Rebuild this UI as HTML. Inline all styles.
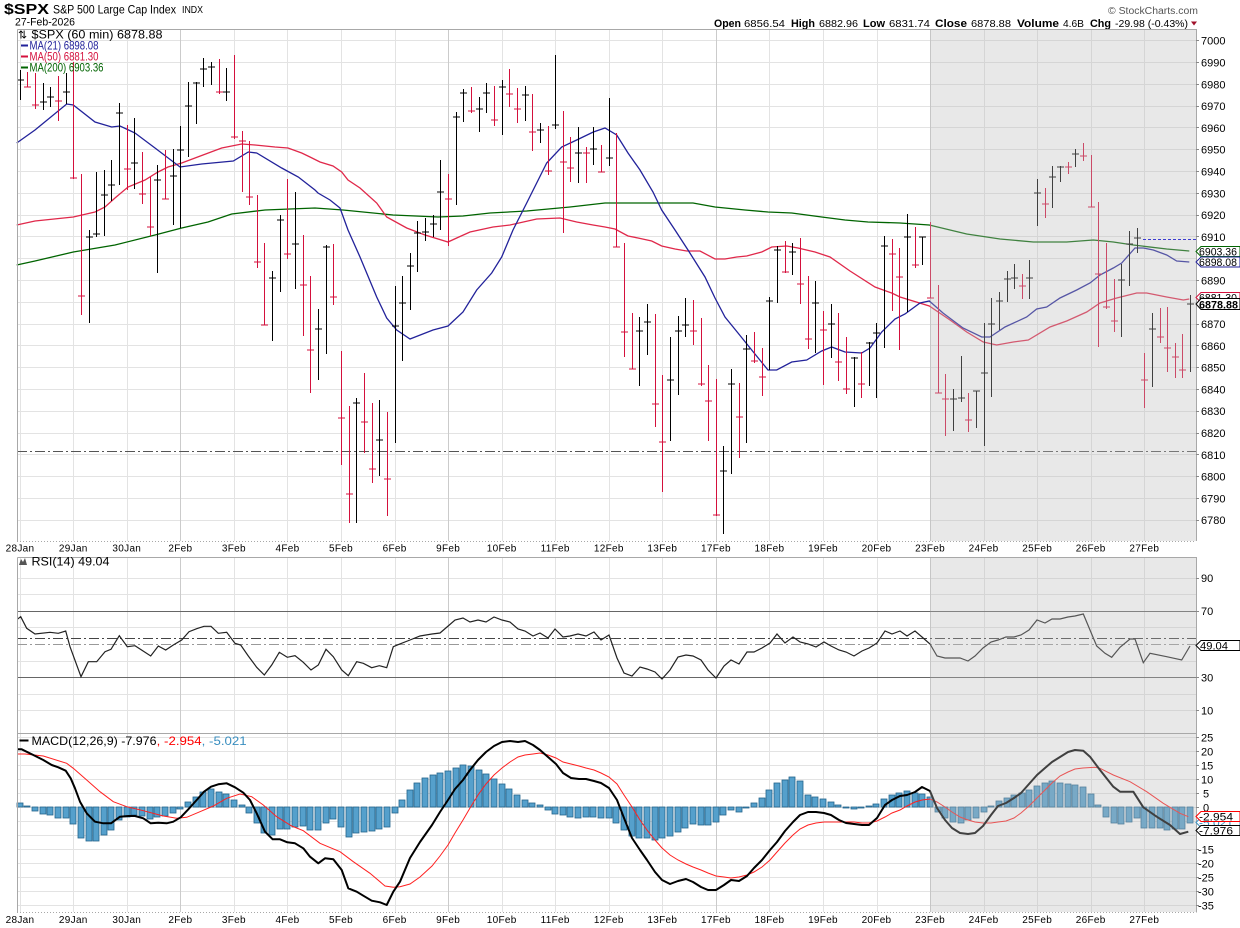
<!DOCTYPE html>
<html><head><meta charset="utf-8"><style>
html,body{margin:0;padding:0;background:#fff;width:1240px;height:928px;overflow:hidden}
svg{display:block;font-family:"Liberation Sans",Arial,sans-serif}
</style></head><body>
<svg width="1240" height="928" viewBox="0 0 1240 928" xmlns="http://www.w3.org/2000/svg">
<rect width="1240" height="928" fill="#fff"/>
<!-- header -->
<text x="4" y="14" font-size="15" font-weight="bold" textLength="45" lengthAdjust="spacingAndGlyphs">$SPX</text>
<text x="53" y="13.5" font-size="12" textLength="123" lengthAdjust="spacingAndGlyphs">S&amp;P 500 Large Cap Index</text>
<text x="182" y="13" font-size="10" textLength="21" lengthAdjust="spacingAndGlyphs">INDX</text>
<text x="15" y="25.5" font-size="11" textLength="60" lengthAdjust="spacingAndGlyphs">27-Feb-2026</text>
<text x="1108" y="14" font-size="10" fill="#555" textLength="90" lengthAdjust="spacingAndGlyphs">© StockCharts.com</text>
<g font-size="11">
<text x="714" y="27" font-weight="bold" textLength="27" lengthAdjust="spacingAndGlyphs">Open</text>
<text x="744" y="27" font-size="10.5" textLength="41" lengthAdjust="spacingAndGlyphs">6856.54</text>
<text x="791" y="27" font-weight="bold" textLength="24" lengthAdjust="spacingAndGlyphs">High</text>
<text x="819" y="27" font-size="10.5" textLength="39" lengthAdjust="spacingAndGlyphs">6882.96</text>
<text x="863" y="27" font-weight="bold" textLength="22" lengthAdjust="spacingAndGlyphs">Low</text>
<text x="889" y="27" font-size="10.5" textLength="41" lengthAdjust="spacingAndGlyphs">6831.74</text>
<text x="935" y="27" font-weight="bold" textLength="32" lengthAdjust="spacingAndGlyphs">Close</text>
<text x="971" y="27" font-size="10.5" textLength="40" lengthAdjust="spacingAndGlyphs">6878.88</text>
<text x="1017" y="27" font-weight="bold" textLength="42" lengthAdjust="spacingAndGlyphs">Volume</text>
<text x="1063" y="27" font-size="10.5" textLength="21" lengthAdjust="spacingAndGlyphs">4.6B</text>
<text x="1090" y="27" font-weight="bold" textLength="21" lengthAdjust="spacingAndGlyphs">Chg</text>
<text x="1115" y="27" font-size="10.5" textLength="73" lengthAdjust="spacingAndGlyphs">-29.98 (-0.43%)</text>
</g>
<polygon points="1191,21.5 1197,21.5 1194,25.5" fill="#a0102a"/>

<!-- ============ GRIDS ============ -->
<g stroke="#e3e3e3" stroke-width="1" fill="none" shape-rendering="crispEdges">
<path d="M17 40.5H1196M17 62.5H1196M17 84.5H1196M17 106.5H1196M17 127.5H1196M17 149.5H1196M17 171.5H1196M17 193.5H1196M17 215.5H1196M17 236.5H1196M17 258.5H1196M17 280.5H1196M17 302.5H1196M17 324.5H1196M17 345.5H1196M17 367.5H1196M17 389.5H1196M17 411.5H1196M17 433.5H1196M17 454.5H1196M17 476.5H1196M17 498.5H1196M17 520.5H1196"/>
<path d="M20.5 29V541M73.5 29V541M127.5 29V541M234.5 29V541M287.5 29V541M341.5 29V541M395.5 29V541M502.5 29V541M555.5 29V541M609.5 29V541M662.5 29V541M769.5 29V541M823.5 29V541M877.5 29V541M984.5 29V541M1037.5 29V541M1091.5 29V541M1144.5 29V541"/>
<path stroke="#cbcbcb" d="M180.5 29V541M448.5 29V541M716.5 29V541M930.5 29V541"/>
<path d="M17 578.5H1196M17 594.5H1196M17 627.5H1196M17 661.5H1196M17 694.5H1196M17 710.5H1196"/>
<path d="M20.5 557V733M73.5 557V733M127.5 557V733M234.5 557V733M287.5 557V733M341.5 557V733M395.5 557V733M502.5 557V733M555.5 557V733M609.5 557V733M662.5 557V733M769.5 557V733M823.5 557V733M877.5 557V733M984.5 557V733M1037.5 557V733M1091.5 557V733M1144.5 557V733"/>
<path stroke="#cbcbcb" d="M180.5 557V733M448.5 557V733M716.5 557V733M930.5 557V733"/>
<path d="M17 737.5H1196M17 751.5H1196M17 765.5H1196M17 779.5H1196M17 793.5H1196M17 807.5H1196M17 821.5H1196M17 835.5H1196M17 849.5H1196M17 863.5H1196M17 877.5H1196M17 891.5H1196M17 905.5H1196"/>
<path d="M20.5 733V912M73.5 733V912M127.5 733V912M234.5 733V912M287.5 733V912M341.5 733V912M395.5 733V912M502.5 733V912M555.5 733V912M609.5 733V912M662.5 733V912M769.5 733V912M823.5 733V912M877.5 733V912M984.5 733V912M1037.5 733V912M1091.5 733V912M1144.5 733V912"/>
<path stroke="#cbcbcb" d="M180.5 733V912M448.5 733V912M716.5 733V912M930.5 733V912"/>
</g>

<path d="M17 451.5H1196" stroke="#555" stroke-width="1" stroke-dasharray="10,3,2,3" fill="none"/>

<!-- MAs -->
<polyline fill="none" stroke="#006400" stroke-width="1.3" points="16.7,265 35,261 73.3,252 115,245 155,235 181.7,228 208,222 231.7,214 265,210 315,208 343,210 393,215 438,217 463,216 490,213 526.7,211 570,207 605,203 693,203 715,207 745,210 768,212 791.7,213 821.7,217 845,220 868,222 900,223 929.3,225 966.7,234 1000,239 1033.3,242 1066.7,242 1093.3,240 1113.3,242 1133.3,245 1166.7,249 1189.3,251"/>
<polyline fill="none" stroke="#e0284a" stroke-width="1.3" points="16.7,225 35,221 73.3,217 95,212 105,207 115,198 128,187 145,180 158,172 168,167 181.7,163 203,155 221.7,148 241.7,144 255,145 275,147 288,148 301.7,153 310,157 320,162 333,166 341.7,172 348,180 360,188 376.7,203 386.7,217 406.7,228 425,235 448,242 456.7,238 470,232 493,227 510,225 536.7,219 560,218 576.7,222 593,225 605,227 615,229 628,236 638,238 651.7,241 661.7,246 675,249 686.7,251 700,251 715,259 725,259 736.7,257 746.7,256 761.7,252 771.7,247 786.7,246 798,248 815,252 830,257 850,271 875,287 891.7,293 900,297 929.3,306 950,320 966.7,332 983.3,342 996.7,345 1013.3,342 1028.3,340 1050,327 1066.7,321 1086.7,312 1100,303 1116.7,298 1136.7,293 1146.7,293 1166.7,297 1183.3,300 1189.3,299"/>
<polyline fill="none" stroke="#22229a" stroke-width="1.3" points="16.7,143 35,130 66.7,104 73.3,105 95,122 111.7,127 120,126 135,133 155,148 180,167 201.7,164 233.3,161 248.3,152 256.7,153 281.7,168 298.3,177 315,190 318,193 330,200 340,208 348,230 360,257 376.7,297 386.7,318 396.7,330 410,339 433,330 448,326 463,312 476.7,290 491.7,273 501.7,257 513,230 526.7,203 546.7,163 561.7,147 576.7,140 593.3,132 605,128 616.7,135 628,153 640,170 653,192 661.7,210 675,230 688,250 705,277 715,298 725,317 738,333 751.7,350 768,370 776.7,370 791.7,362 806.7,360 821.7,351 831.7,347 845,352 861.7,353 870,348 881.7,332 895,319 905,314 920,303 929.3,301 943,313 963,328 981.7,337 990,337 1005,327 1026.7,317 1036.7,309 1046.7,307 1060,298 1076.7,290 1090,283 1100,275 1113.3,268 1121.7,263 1135,248 1143.3,248 1153.3,250 1166.7,255 1176.7,261 1189.3,262"/>

<!-- price bars -->
<g fill="none" stroke-width="1" shape-rendering="crispEdges">
<path stroke="#000" d="M20.5 70V100M17 80H24M43.5 83V110M40 102H47M50.5 87V107M47 97H54M66.5 73V104M63 92H70M89.5 230V323M86 237H93M96.5 172V237M93 234H100M104.5 170V236M101 195H108M111.5 160V201M108 185H115M119.5 103V185M116 113H123M134.5 118V189M131 163H138M157.5 165V273M154 180H161M173.5 149V225M170 176H177M180.5 126V228M177 150H184M188.5 82V157M185 106H192M196.5 82V124M193 83H200M203.5 58V87M200 69H207M211.5 62V85M208 67H215M226.5 68V101M223 92H230M272.5 271V341M269 278H276M280.5 215V292M277 220H284M295.5 192V289M292 244H299M318.5 309V380M315 329H322M326.5 245V354M323 247H330M356.5 398V523M353 403H360M379.5 400V476M376 440H383M395.5 286V443M392 326H399M402.5 276V361M399 303H406M410.5 253V310M407 266H414M417.5 221V272M414 233H421M425.5 218V241M422 232H429M433.5 215V237M430 224H437M440.5 160V230M437 192H444M456.5 112V205M453 117H460M463.5 89V122M460 93H467M479.5 97V132M476 109H483M486.5 83V113M483 93H490M502.5 80V135M499 87H506M525.5 86V121M522 95H529M540.5 123V143M537 130H544M555.5 55V129M552 125H559M578.5 127V183M575 153H582M593.5 127V165M590 149H597M609.5 98V166M606 158H613M639.5 317V386M636 331H643M647.5 304V355M644 322H651M670.5 337V441M667 380H674M678.5 316V395M675 331H682M685.5 298V337M682 325H689M723.5 446V534M720 471H727M731.5 369V474M728 384H735M746.5 335V443M743 349H750M769.5 297V370M766 301H773M777.5 246V303M774 250H781M792.5 243V275M789 252H796M815.5 281V353M812 303H819M831.5 304V358M828 324H835M854.5 357V407M851 358H858M869.5 342V386M866 343H873M876.5 323V398M873 333H880M884.5 236V348M881 246H888M907.5 214V312M904 237H911M922.5 237V265M919 237H926M953.5 389V431M950 399H957M961.5 356V402M958 398H965M976.5 391V428M973 391H980M984.5 323V446M981 373H988M991.5 298V397M988 324H995M999.5 292V330M996 301H1003M1007.5 271V302M1004 279H1011M1014.5 264V289M1011 278H1018M1029.5 260V299M1026 278H1033M1037.5 179V226M1034 193H1041M1052.5 166V208M1049 177H1056M1060.5 166V182M1057 167H1064M1075.5 149V167M1072 154H1079M1121.5 264V337M1118 280H1125M1129.5 231V286M1126 244H1133M1137.5 228V253M1134 238H1141M1152.5 313V387M1149 329H1156M1190.5 295V372M1187 304H1194"/>
<path stroke="#d4103c" d="M27.5 72V87M24 87H31M35.5 73V109M32 105H39M58.5 76V121M55 101H62M73.5 62V179M70 178H77M81.5 174V315M78 296H85M127.5 125V190M124 169H131M142.5 152V204M139 194H146M150.5 177V236M147 227H154M165.5 150V199M162 199H169M219.5 59V94M216 92H223M234.5 55V139M231 137H238M242.5 131V192M239 141H246M249.5 141V205M246 197H253M257.5 195V268M254 262H261M264.5 243V325M261 325H268M287.5 179V259M284 254H291M303.5 235V336M300 285H307M310.5 276V393M307 350H314M333.5 244V305M330 297H337M341.5 351V465M338 418H345M349.5 406V523M346 494H353M364.5 373V453M361 422H368M372.5 403V483M369 469H376M387.5 412V516M384 479H391M448.5 174V246M445 199H452M471.5 87V113M468 111H475M494.5 86V126M491 120H498M509.5 69V107M506 94H513M517.5 88V123M514 109H521M532.5 94V151M529 132H536M548.5 126V175M545 171H552M563.5 111V233M560 162H567M570.5 137V182M567 168H574M586.5 147V183M583 153H590M601.5 145V172M598 172H605M616.5 133V247M613 247H620M624.5 243V357M621 332H628M632.5 313V369M629 369H636M655.5 314V427M652 404H659M662.5 375V492M659 442H666M693.5 300V345M690 331H697M701.5 318V386M698 384H705M708.5 365V441M705 401H712M716.5 379V516M713 515H720M739.5 383V458M736 417H743M754.5 332V363M751 361H758M762.5 348V396M759 377H766M785.5 241V273M782 272H789M800.5 238V304M797 284H804M808.5 276V349M805 339H812M823.5 311V385M820 330H827M838.5 313V381M835 362H842M846.5 337V394M843 389H850M861.5 352V398M858 384H865M892.5 239V311M889 254H896M899.5 248V350M896 277H903M915.5 227V268M912 265H919M930.5 222V298M927 298H934M938.5 285V393M935 393H942M945.5 374V436M942 399H949M968.5 393V432M965 420H972M1022.5 274V299M1019 286H1026M1045.5 188V218M1042 204H1049M1068.5 162V174M1065 167H1072M1083.5 143V161M1080 156H1087M1091.5 155V207M1088 207H1095M1098.5 202V347M1095 274H1102M1106.5 243V309M1103 307H1110M1114.5 279V332M1111 321H1118M1144.5 353V408M1141 380H1148M1160.5 308V343M1157 337H1164M1167.5 307V372M1164 348H1171M1175.5 343V378M1172 357H1179M1182.5 334V378M1179 370H1186"/>
</g>

<!-- ============ RSI ============ -->
<g fill="none" shape-rendering="crispEdges">
<path d="M17 611.5H1196M17 677.5H1196" stroke="#666" stroke-width="1"/>
<path d="M17 638.5H1196" stroke="#444" stroke-width="1" stroke-dasharray="10,3,2,3"/>
<path d="M17 644.5H1196" stroke="#999" stroke-width="1" stroke-dasharray="10,3,2,3"/>
</g>
<polyline fill="none" stroke="#222" stroke-width="1.2" points="17.3,619.3 20.7,616.7 26.7,628.3 35,634 50,632.3 58.3,633.3 65.7,631 70,646.7 81,676.7 88.3,661.7 96.7,661.7 105,651.7 111,649.3 119.3,635.7 127.3,646.7 135,645.7 142.7,650.7 150.7,656 158.3,646 165.7,650 173.3,645 181.7,640 189,631.7 196.7,628.7 204,626.3 211,626.3 218.3,633.3 226.7,632.3 235,643.3 240.7,645 248.3,656 256.7,667.3 264.3,675 271.7,665 279.3,652.3 287.3,657.3 295,655.7 303.3,662.3 311,670 318.3,665 326,649.3 333.3,656.7 341.7,670 348.3,675.7 356.7,661.7 363.3,663.3 371.7,667.7 379.3,665.7 386.7,667.7 393.3,646.7 399,644.3 410,640 420,636 432,634 440,633 447,627 455,620 463,618 470,622 478,620 486,622 494,617 502,620 510,622 518,629 525,631 533,636 540,633 548,638 555,629 563,637 570,636 578,634 586,636 594,632 601,640 609,635 617,658 624,673 632,676 640,667 647,669 655,672 662,679 670,670 678,657 686,655 693,656 701,660 708,670 716,678 724,666 731,660 739,664 747,652 754,652 762,648 770,643 777,634 785,643 793,637 800,642 808,644 816,647 824,642 831,646 839,650 846,652 854,656 862,651 869,648 877,643 885,631 892,634 900,631 907,636 915,631 922,637 930,644 937,656 945,658 952,658 960,658 968,661 975,656 983,648 991,642 998,640 1006,637 1014,637 1021,635 1029,630 1037,620 1045,623 1052,619 1060,619 1068,617 1075,616 1083.3,614 1090,630 1096.7,646 1105,653.3 1111.7,657.3 1120,647.3 1130,639 1135,639 1143.3,662.7 1150,653.3 1166.7,656.7 1181.7,660 1190,646"/>

<!-- ============ MACD ============ -->
<g fill="#55a0cc" stroke="#24648c" stroke-width="0.8">
<rect x="17" y="803" width="6" height="4"/><rect x="24" y="806" width="6" height="1"/><rect x="32" y="807" width="6" height="4"/><rect x="40" y="807" width="6" height="7"/><rect x="47" y="807" width="6" height="8"/><rect x="55" y="807" width="6" height="11"/><rect x="63" y="807" width="6" height="11"/><rect x="70" y="807" width="6" height="17"/><rect x="78" y="807" width="6" height="31"/><rect x="86" y="807" width="6" height="34"/><rect x="93" y="807" width="6" height="34"/><rect x="101" y="807" width="6" height="28"/><rect x="108" y="807" width="6" height="23"/><rect x="116" y="807" width="6" height="13"/><rect x="124" y="807" width="6" height="10"/><rect x="131" y="807" width="6" height="8"/><rect x="139" y="807" width="6" height="9"/><rect x="147" y="807" width="6" height="12"/><rect x="154" y="807" width="6" height="10"/><rect x="162" y="807" width="6" height="9"/><rect x="170" y="807" width="6" height="6"/><rect x="177" y="807" width="6" height="2"/><rect x="185" y="802" width="6" height="5"/><rect x="193" y="797" width="6" height="10"/><rect x="200" y="792" width="6" height="15"/><rect x="208" y="789" width="6" height="18"/><rect x="216" y="792" width="6" height="15"/><rect x="223" y="794" width="6" height="13"/><rect x="231" y="800" width="6" height="7"/><rect x="239" y="805" width="6" height="2"/><rect x="246" y="807" width="6" height="6"/><rect x="254" y="807" width="6" height="16"/><rect x="261" y="807" width="6" height="26"/><rect x="269" y="807" width="6" height="28"/><rect x="277" y="807" width="6" height="22"/><rect x="284" y="807" width="6" height="22"/><rect x="292" y="807" width="6" height="20"/><rect x="300" y="807" width="6" height="19"/><rect x="307" y="807" width="6" height="23"/><rect x="315" y="807" width="6" height="23"/><rect x="323" y="807" width="6" height="16"/><rect x="330" y="807" width="6" height="12"/><rect x="338" y="807" width="6" height="20"/><rect x="346" y="807" width="6" height="30"/><rect x="353" y="807" width="6" height="26"/><rect x="361" y="807" width="6" height="25"/><rect x="369" y="807" width="6" height="24"/><rect x="376" y="807" width="6" height="22"/><rect x="384" y="807" width="6" height="20"/><rect x="392" y="807" width="6" height="6"/><rect x="399" y="800" width="6" height="7"/><rect x="407" y="790" width="6" height="17"/><rect x="414" y="783" width="6" height="24"/><rect x="422" y="778" width="6" height="29"/><rect x="430" y="775" width="6" height="32"/><rect x="437" y="773" width="6" height="34"/><rect x="445" y="771" width="6" height="36"/><rect x="453" y="768" width="6" height="39"/><rect x="460" y="765" width="6" height="42"/><rect x="468" y="766" width="6" height="41"/><rect x="476" y="770" width="6" height="37"/><rect x="483" y="774" width="6" height="33"/><rect x="491" y="779" width="6" height="28"/><rect x="499" y="784" width="6" height="23"/><rect x="506" y="789" width="6" height="18"/><rect x="514" y="795" width="6" height="12"/><rect x="522" y="800" width="6" height="7"/><rect x="529" y="803" width="6" height="4"/><rect x="537" y="805" width="6" height="2"/><rect x="545" y="807" width="6" height="3"/><rect x="552" y="807" width="6" height="7"/><rect x="560" y="807" width="6" height="8"/><rect x="567" y="807" width="6" height="10"/><rect x="575" y="807" width="6" height="11"/><rect x="583" y="807" width="6" height="10"/><rect x="590" y="807" width="6" height="10"/><rect x="598" y="807" width="6" height="11"/><rect x="606" y="807" width="6" height="11"/><rect x="613" y="807" width="6" height="16"/><rect x="621" y="807" width="6" height="23"/><rect x="629" y="807" width="6" height="29"/><rect x="636" y="807" width="6" height="31"/><rect x="644" y="807" width="6" height="31"/><rect x="652" y="807" width="6" height="33"/><rect x="659" y="807" width="6" height="31"/><rect x="667" y="807" width="6" height="29"/><rect x="675" y="807" width="6" height="25"/><rect x="682" y="807" width="6" height="21"/><rect x="690" y="807" width="6" height="17"/><rect x="698" y="807" width="6" height="18"/><rect x="705" y="807" width="6" height="18"/><rect x="713" y="807" width="6" height="15"/><rect x="720" y="807" width="6" height="8"/><rect x="728" y="807" width="6" height="3"/><rect x="736" y="807" width="6" height="5"/><rect x="743" y="807" width="6" height="1"/><rect x="751" y="803" width="6" height="4"/><rect x="759" y="798" width="6" height="9"/><rect x="766" y="790" width="6" height="17"/><rect x="774" y="783" width="6" height="24"/><rect x="782" y="780" width="6" height="27"/><rect x="789" y="777" width="6" height="30"/><rect x="797" y="781" width="6" height="26"/><rect x="805" y="795" width="6" height="12"/><rect x="812" y="797" width="6" height="10"/><rect x="820" y="799" width="6" height="8"/><rect x="828" y="802" width="6" height="5"/><rect x="835" y="805" width="6" height="2"/><rect x="843" y="807" width="6" height="1"/><rect x="851" y="807" width="6" height="2"/><rect x="858" y="807" width="6" height="1"/><rect x="866" y="806" width="6" height="1"/><rect x="873" y="804" width="6" height="3"/><rect x="881" y="799" width="6" height="8"/><rect x="889" y="795" width="6" height="12"/><rect x="896" y="793" width="6" height="14"/><rect x="904" y="791" width="6" height="16"/><rect x="912" y="793" width="6" height="14"/><rect x="919" y="794" width="6" height="13"/><rect x="927" y="797" width="6" height="10"/><rect x="935" y="807" width="6" height="5"/><rect x="942" y="807" width="6" height="11"/><rect x="950" y="807" width="6" height="15"/><rect x="958" y="807" width="6" height="16"/><rect x="965" y="807" width="6" height="13"/><rect x="973" y="807" width="6" height="11"/><rect x="981" y="807" width="6" height="5"/><rect x="988" y="806" width="6" height="1"/><rect x="996" y="801" width="6" height="6"/><rect x="1004" y="798" width="6" height="9"/><rect x="1011" y="795" width="6" height="12"/><rect x="1019" y="793" width="6" height="14"/><rect x="1026" y="790" width="6" height="17"/><rect x="1034" y="786" width="6" height="21"/><rect x="1042" y="783" width="6" height="24"/><rect x="1049" y="781" width="6" height="26"/><rect x="1057" y="783" width="6" height="24"/><rect x="1065" y="784" width="6" height="23"/><rect x="1072" y="785" width="6" height="22"/><rect x="1080" y="787" width="6" height="20"/><rect x="1088" y="794" width="6" height="13"/><rect x="1095" y="805" width="6" height="2"/><rect x="1103" y="807" width="6" height="10"/><rect x="1111" y="807" width="6" height="16"/><rect x="1118" y="807" width="6" height="17"/><rect x="1126" y="807" width="6" height="15"/><rect x="1134" y="807" width="6" height="11"/><rect x="1141" y="807" width="6" height="21"/><rect x="1149" y="807" width="6" height="21"/><rect x="1157" y="807" width="6" height="21"/><rect x="1164" y="807" width="6" height="23"/><rect x="1172" y="807" width="6" height="22"/><rect x="1179" y="807" width="6" height="22"/><rect x="1187" y="807" width="6" height="16"/>
</g>
<polyline fill="none" stroke="#ff2020" stroke-width="1" points="17.3,754 25,754 43.3,756 66.7,763.3 73.3,768.3 86.7,780 100,791.7 113.3,801.7 126.7,806.7 143.3,810.7 163.3,816 176.7,818.3 186.7,817.3 200,811.7 213.3,806 226.7,798.3 240,794 251.7,796.7 263.3,805 276.7,816.7 291.7,826 303.3,830.7 320,843.3 340,851.7 353.3,861.7 370,873.3 385,886 393.3,887.3 400,886.7 410,884 420,877 432,866 440,856 448,845 455,833 463,820 470,808 478,795 486,784 494,775 502,768 510,762 518,757 525,755 533,754 540,753 548,755 556,758 563,762 571,764 579,766 586,768 594,770 601,773 609,777 617,784 624,795 632,807 640,820 647,830 655,840 662,848 670,855 678,860 686,864 693,867 701,870 708,873 716,876 724,877 731,878 739,877 747,875 754,872 762,867 770,860 777,852 785,843 793,835 800,829 808,825 816,823 824,822 831,822 839,822 846,822 854,822 862,823 869,823 877,821 885,817 892,813 900,810 907,806 915,802 922,800 930,799 937,802 945,807 952,812 960,817 968,820 975,822 983,823 991,823 998,822 1006,821 1014,818 1021,813 1029,806 1037,798 1045,790 1052,783 1060,776 1068,772 1075,769 1083,768 1095,767.3 1100,768.3 1113.3,775 1130,781.7 1146.7,791.7 1163.3,803.3 1180,813.3 1188.3,816.7"/>
<polyline fill="none" stroke="#000" stroke-width="2" stroke-linejoin="round" points="17.3,749.3 21.7,749.3 33.3,755 43.3,760 51.7,765 58.3,767.3 65.7,770.7 70.7,778.3 75,788.3 80,801.7 86.7,813.3 95,821.7 103.3,823.3 111,823.3 120,816.7 128.3,816 135,816 143.3,818.3 150.7,823.3 158.3,822.7 166.7,823.3 173.3,821.7 180.7,817.3 188.3,809.3 196.7,800 204,791.7 211,786.7 218.3,784.3 226.7,783.3 235,787.3 243.3,792.7 250,800 256.7,813.3 265,831.7 272.7,839.3 280,839.3 287.3,842.3 295,843.3 303.3,848.3 310,856.7 318.3,863.3 325,858.3 333.3,859.3 341.7,870 348.3,888.3 356.7,891.7 363.3,895.7 371.7,900.7 380,902.3 386.7,905 393.3,891.7 400,881.7 410,858 420,842 432,825 440,812 448,800 455,789 463,780 470,770 478,760 486,752 494,746 502,742 510,741 518,742 525,741 533,745 540,750 548,757 556,764 563,773 571,778 579,779 586,779 594,781 601,783 609,788 617,800 624,818 632,838 640,850 647,860 655,872 662,880 670,884 678,881 686,879 693,882 701,887 708,890 716,890 724,885 731,880 739,881 747,876 754,868 762,860 770,850 777,842 785,831 793,822 800,815 808,812 816,812 824,813 831,815 839,820 846,823 854,824 862,825 869,825 877,818 885,805 892,800 900,796 907,795 915,792 922,787 930,791 937,808 945,820 952,828 960,833 968,834 975,833 983,826 991,815 998,806 1006,803 1014,798 1021,793 1029,784 1037,775 1045,768 1052,762 1060,757 1068,752 1075,750 1083.3,750.7 1090,756.7 1100,770 1113.3,786.7 1120,791.7 1133.3,791.7 1143.3,807.3 1156.7,816.7 1170,825 1180,834 1188.3,831.7"/>

<!-- shaded overlay -->
<g fill="rgb(188,188,188)" fill-opacity="0.34">
<rect x="930" y="29" width="266" height="512"/>
<rect x="930" y="557" width="266" height="176"/>
<rect x="930" y="733" width="266" height="179"/>
</g>
<path d="M1143 239.5H1196" stroke="#3c3cd0" stroke-width="1" stroke-dasharray="3,2"/>

<!-- borders -->
<g fill="none" stroke="#a8a8a8" stroke-width="1" shape-rendering="crispEdges">
<path d="M17.5 29.5H1196.5V541M17.5 29.5V541"/>
<path d="M17 541.5H1196" stroke-dasharray="1,2"/>
<path d="M17.5 557.5H1196.5V912.5M17.5 557.5V912.5M17 733.5H1196"/>
<path d="M17 912.5H1196" stroke-dasharray="1,2"/>
</g>
<g stroke="#888" stroke-width="1" shape-rendering="crispEdges">
<path d="M1196 40.5h3M1196 62.5h3M1196 84.5h3M1196 106.5h3M1196 127.5h3M1196 149.5h3M1196 171.5h3M1196 193.5h3M1196 215.5h3M1196 236.5h3M1196 280.5h3M1196 324.5h3M1196 345.5h3M1196 367.5h3M1196 389.5h3M1196 411.5h3M1196 433.5h3M1196 454.5h3M1196 476.5h3M1196 498.5h3M1196 520.5h3M1196 578.5h3M1196 611.5h3M1196 677.5h3M1196 710.5h3M1196 737.5h3M1196 751.5h3M1196 765.5h3M1196 779.5h3M1196 793.5h3M1196 807.5h3M1196 849.5h3M1196 863.5h3M1196 877.5h3M1196 891.5h3M1196 905.5h3"/>
</g>

<!-- axis labels -->
<g font-size="11" fill="#000">
<text x="1201" y="44.5">7000</text><text x="1201" y="66.5">6990</text><text x="1201" y="88.5">6980</text><text x="1201" y="110">6970</text><text x="1201" y="132">6960</text><text x="1201" y="153.5">6950</text><text x="1201" y="175.5">6940</text><text x="1201" y="197.5">6930</text><text x="1201" y="219">6920</text><text x="1201" y="241">6910</text><text x="1201" y="284.5">6890</text><text x="1201" y="328">6870</text><text x="1201" y="350">6860</text><text x="1201" y="371.5">6850</text><text x="1201" y="393.5">6840</text><text x="1201" y="415">6830</text><text x="1201" y="437">6820</text><text x="1201" y="459">6810</text><text x="1201" y="480.5">6800</text><text x="1201" y="502.5">6790</text><text x="1201" y="524">6780</text>
<text x="1201" y="582">90</text><text x="1201" y="615">70</text><text x="1201" y="681.5">30</text><text x="1201" y="714.5">10</text>
<text x="1201" y="741.5">25</text><text x="1201" y="755.5">20</text><text x="1201" y="769.5">15</text><text x="1201" y="783.5">10</text><text x="1203" y="797.5">5</text><text x="1203" y="811.5">0</text><text x="1198" y="853.5">-15</text><text x="1198" y="867.5">-20</text><text x="1198" y="881.5">-25</text><text x="1198" y="895.5">-30</text><text x="1198" y="909.5">-35</text>
</g>

<!-- value boxes -->
<g font-size="11">
<path d="M1196 251.5L1201 246.5H1240V256.5H1201Z" fill="#fff" stroke="#006400"/>
<text x="1199" y="255.5" textLength="38" lengthAdjust="spacingAndGlyphs">6903.36</text>
<path d="M1196 262L1201 257H1240V267H1201Z" fill="#fff" stroke="#22229a"/>
<text x="1199" y="266" textLength="38" lengthAdjust="spacingAndGlyphs">6898.08</text>
<path d="M1196 297.5L1201 292.5H1240V302.5H1201Z" fill="#fff" stroke="#d4103c"/>
<text x="1199" y="301.5" textLength="38" lengthAdjust="spacingAndGlyphs">6881.30</text>
<path d="M1196 304L1201 298.5H1240V309.5H1201Z" fill="#fff" stroke="#000"/>
<text x="1199" y="308.5" font-weight="bold" textLength="39" lengthAdjust="spacingAndGlyphs">6878.88</text>
<path d="M1196 645.5L1201 640.5H1240V650.5H1201Z" fill="#fff" stroke="#000"/>
<text x="1200" y="649.5" textLength="28" lengthAdjust="spacingAndGlyphs">49.04</text>
<path d="M1196 822.5L1201 817.5H1240V827.5H1201Z" fill="#fff" stroke="#3a8fc0"/>
<text x="1199" y="826.5" fill="#3a8fc0" textLength="34" lengthAdjust="spacingAndGlyphs">-5.021</text>
<path d="M1196 816.5L1201 811.5H1240V821.5H1201Z" fill="#fff" stroke="#ff0000"/>
<text x="1199" y="820.5" textLength="34" lengthAdjust="spacingAndGlyphs">-2.954</text>
<path d="M1196 830.5L1201 825.5H1240V835.5H1201Z" fill="#fff" stroke="#000"/>
<text x="1199" y="834.5" textLength="34" lengthAdjust="spacingAndGlyphs">-7.976</text>
</g>

<!-- legends -->
<text x="18" y="38.5" font-size="11" font-family="DejaVu Sans, sans-serif">⇅</text>
<text x="31.5" y="38.5" font-size="12" textLength="131" lengthAdjust="spacingAndGlyphs">$SPX (60 min) 6878.88</text>
<path d="M21 45.5H28" stroke="#22229a" stroke-width="2"/>
<text x="29.5" y="49.5" font-size="12" fill="#22229a" textLength="69" lengthAdjust="spacingAndGlyphs">MA(21) 6898.08</text>
<path d="M21 56.5H28" stroke="#d4103c" stroke-width="2"/>
<text x="29.5" y="60.5" font-size="12" fill="#d4103c" textLength="69" lengthAdjust="spacingAndGlyphs">MA(50) 6881.30</text>
<path d="M21 67.5H28" stroke="#006400" stroke-width="2"/>
<text x="29.5" y="71.5" font-size="12" fill="#006400" textLength="74" lengthAdjust="spacingAndGlyphs">MA(200) 6903.36</text>

<polygon points="19,565 21,559 23,562 25,558 27,565" fill="#555"/>
<text x="31.5" y="565.5" font-size="12" textLength="78" lengthAdjust="spacingAndGlyphs">RSI(14) 49.04</text>

<path d="M19.5 740.5H28.5" stroke="#000" stroke-width="2"/>
<text x="31.5" y="745" font-size="12" textLength="125" lengthAdjust="spacingAndGlyphs">MACD(12,26,9) -7.976</text>
<text x="156.7" y="745" font-size="12" fill="#ff0000" textLength="45" lengthAdjust="spacingAndGlyphs">, -2.954</text>
<text x="201.7" y="745" font-size="12" fill="#3a8fc0" textLength="45" lengthAdjust="spacingAndGlyphs">, -5.021</text>

<!-- date labels -->
<g font-size="10" text-anchor="middle" fill="#000" letter-spacing="0.3">
<text x="20" y="551.5">28Jan</text><text x="73.3" y="551.5">29Jan</text><text x="126.8" y="551.5">30Jan</text><text x="180.4" y="551.5">2Feb</text><text x="233.9" y="551.5">3Feb</text><text x="287.5" y="551.5">4Feb</text><text x="341" y="551.5">5Feb</text><text x="394.6" y="551.5">6Feb</text><text x="448.1" y="551.5">9Feb</text><text x="501.7" y="551.5">10Feb</text><text x="555.2" y="551.5">11Feb</text><text x="608.8" y="551.5">12Feb</text><text x="662.3" y="551.5">13Feb</text><text x="715.9" y="551.5">17Feb</text><text x="769.4" y="551.5">18Feb</text><text x="823" y="551.5">19Feb</text><text x="876.5" y="551.5">20Feb</text><text x="930.1" y="551.5">23Feb</text><text x="983.6" y="551.5">24Feb</text><text x="1037.2" y="551.5">25Feb</text><text x="1090.7" y="551.5">26Feb</text><text x="1144.3" y="551.5">27Feb</text>
<text x="20" y="923">28Jan</text><text x="73.3" y="923">29Jan</text><text x="126.8" y="923">30Jan</text><text x="180.4" y="923">2Feb</text><text x="233.9" y="923">3Feb</text><text x="287.5" y="923">4Feb</text><text x="341" y="923">5Feb</text><text x="394.6" y="923">6Feb</text><text x="448.1" y="923">9Feb</text><text x="501.7" y="923">10Feb</text><text x="555.2" y="923">11Feb</text><text x="608.8" y="923">12Feb</text><text x="662.3" y="923">13Feb</text><text x="715.9" y="923">17Feb</text><text x="769.4" y="923">18Feb</text><text x="823" y="923">19Feb</text><text x="876.5" y="923">20Feb</text><text x="930.1" y="923">23Feb</text><text x="983.6" y="923">24Feb</text><text x="1037.2" y="923">25Feb</text><text x="1090.7" y="923">26Feb</text><text x="1144.3" y="923">27Feb</text>
</g>
</svg>
</body></html>
